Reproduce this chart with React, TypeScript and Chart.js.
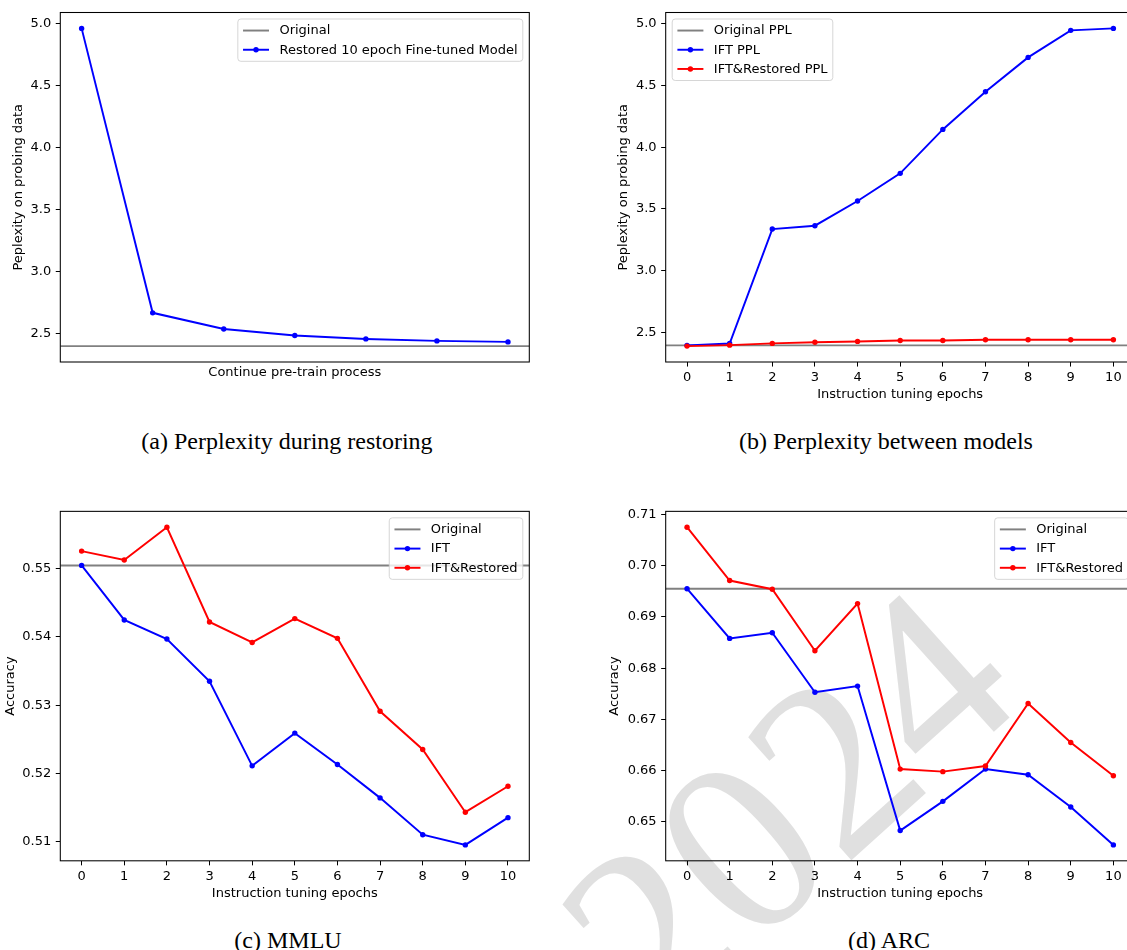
import React, { useEffect, useRef } from 'react';
import { Chart, registerables } from 'chart.js';

Chart.register(...registerables);

// ---------------- DATA ----------------
const restoreSteps = [0, 1, 2, 3, 4, 5, 6];
const restoredFinetunedPPL = [4.96, 2.67, 2.54, 2.487, 2.46, 2.444, 2.436];
const originalPPL_a = 2.402;

const epochs = [0, 1, 2, 3, 4, 5, 6, 7, 8, 9, 10];
const iftPPL = [2.395, 2.41, 3.337, 3.364, 3.564, 3.788, 4.144, 4.449, 4.727, 4.946, 4.962];
const iftRestoredPPL = [2.389, 2.397, 2.411, 2.42, 2.427, 2.435, 2.435, 2.44, 2.44, 2.44, 2.44];
const originalPPL_b = 2.395;

const mmluIFT = [0.5505, 0.5425, 0.5397, 0.5335, 0.5211, 0.5259, 0.5213, 0.5164, 0.511, 0.5095, 0.5135];
const mmluRestored = [0.5526, 0.5513, 0.5561, 0.5422, 0.5392, 0.5427, 0.5398, 0.5291, 0.5235, 0.5143, 0.5181];
const mmluOriginal = 0.5505;

const arcIFT = [0.6955, 0.6858, 0.6869, 0.6753, 0.6765, 0.6483, 0.654, 0.6603, 0.6592, 0.6529, 0.6455];
const arcRestored = [0.7075, 0.6971, 0.6954, 0.6834, 0.6926, 0.6603, 0.6598, 0.6609, 0.6731, 0.6655, 0.659];
const arcOriginal = 0.6955;

const pplTicks = [2.5, 3.0, 3.5, 4.0, 4.5, 5.0];
const mmluTicks = [0.51, 0.52, 0.53, 0.54, 0.55];
const arcTicks = [0.65, 0.66, 0.67, 0.68, 0.69, 0.7, 0.71];
const epochTicks = [0, 1, 2, 3, 4, 5, 6, 7, 8, 9, 10];

const captions = ['(a) Perplexity during restoring', '(b) Perplexity between models', '(c) MMLU', '(d) ARC'];

// ---------------- STYLE ----------------
const FONT = '"DejaVu Sans", Verdana, sans-serif';
const FS = 13;
const TICK = 4.55;
const LW = 1.95;
const PR = 2.7;
const Y_W = 60;

function padded(vals: number[]): [number, number] {
  const lo = Math.min(...vals);
  const hi = Math.max(...vals);
  const m = (hi - lo) * 0.05;
  return [lo - m, hi + m];
}
function series(xs: number[], ys: number[]) {
  return xs.map((x, i) => ({ x, y: ys[i] }));
}
function hline(xMin: number, xMax: number, y: number) {
  return [{ x: xMin, y }, { x: xMax, y }];
}
function lineDs(label: string, data: any[], color: string, order: number) {
  return {
    label, data, borderColor: color, backgroundColor: color, borderWidth: LW,
    pointRadius: PR, pointHoverRadius: PR, pointBorderWidth: 0, pointBackgroundColor: color,
    tension: 0, fill: false, order,
  };
}
function origDs(label: string, data: any[]) {
  return {
    label, data, borderColor: '#808080', backgroundColor: '#808080', borderWidth: LW,
    pointRadius: 0, pointHoverRadius: 0, tension: 0, fill: false, order: 10,
  };
}

const framePlugin = {
  id: 'mplFrame',
  afterDatasetsDraw(chart: any) {
    const { ctx, chartArea: ca } = chart;
    ctx.save();
    ctx.strokeStyle = '#000';
    ctx.lineWidth = 1.05;
    ctx.strokeRect(ca.left, ca.top, ca.right - ca.left, ca.bottom - ca.top);
    ctx.restore();
  },
};

const legendPlugin = {
  id: 'mplLegend',
  afterDraw(chart: any, _args: any, opts: any) {
    const { ctx, chartArea: ca } = chart;
    const items = chart.data.datasets;
    ctx.save();
    ctx.font = `${FS}px ${FONT}`;
    const maxW = Math.max(...items.map((d: any) => ctx.measureText(d.label).width));
    const pad = 0.4 * FS, hl = 2 * FS, htp = 0.8 * FS, axpad = 0.5 * FS, th = 12.7, ls = 0.5 * FS;
    const w = 2 * pad + hl + htp + maxW;
    const h = 2 * pad + items.length * th + (items.length - 1) * ls;
    const x0 = opts.loc === 'upper left' ? ca.left + axpad : ca.right - axpad - w;
    const y0 = ca.top + axpad;
    const r = 3;
    ctx.beginPath();
    ctx.moveTo(x0 + r, y0);
    ctx.lineTo(x0 + w - r, y0);
    ctx.arcTo(x0 + w, y0, x0 + w, y0 + r, r);
    ctx.lineTo(x0 + w, y0 + h - r);
    ctx.arcTo(x0 + w, y0 + h, x0 + w - r, y0 + h, r);
    ctx.lineTo(x0 + r, y0 + h);
    ctx.arcTo(x0, y0 + h, x0, y0 + h - r, r);
    ctx.lineTo(x0, y0 + r);
    ctx.arcTo(x0, y0, x0 + r, y0, r);
    ctx.closePath();
    ctx.fillStyle = 'rgba(255,255,255,0.8)';
    ctx.fill();
    ctx.strokeStyle = 'rgba(204,204,204,0.8)';
    ctx.lineWidth = 1;
    ctx.stroke();
    items.forEach((d: any, i: number) => {
      const cy = y0 + pad + th / 2 + i * (th + ls);
      const hx = x0 + pad;
      ctx.strokeStyle = d.borderColor;
      ctx.lineWidth = LW;
      ctx.beginPath();
      ctx.moveTo(hx, cy);
      ctx.lineTo(hx + hl, cy);
      ctx.stroke();
      if (d.pointRadius > 0) {
        ctx.fillStyle = d.borderColor;
        ctx.beginPath();
        ctx.arc(hx + hl / 2, cy, PR, 0, Math.PI * 2);
        ctx.fill();
      }
      ctx.fillStyle = '#000';
      ctx.textBaseline = 'middle';
      ctx.textAlign = 'left';
      ctx.fillText(d.label, hx + hl + htp, cy + 0.5);
    });
    ctx.restore();
  },
};

type Spec = {
  plot: { L: number; T: number; R: number; B: number };
  canvas: { cl: number; ct: number; cw: number; ch: number };
  yTitleX: number; xTitleY: number;
  xMin: number; xMax: number; xTicks: number[];
  yRange: [number, number]; yTicks: number[]; dec: number;
  xLabel: string; yLabel: string; loc: string;
  datasets: any[];
};

const specs: Spec[] = [
  {
    plot: { L: 60.3, T: 12.5, R: 529.3, B: 362 },
    canvas: { cl: 0, ct: 0, cw: 560, ch: 410 },
    yTitleX: 19, xTitleY: 372.3,
    xMin: -0.3, xMax: 6.3, xTicks: [],
    yRange: padded([...restoredFinetunedPPL, originalPPL_a]), yTicks: pplTicks, dec: 1,
    xLabel: 'Continue pre-train process', yLabel: 'Peplexity on probing data', loc: 'upper right',
    datasets: [
      origDs('Original', hline(-0.3, 6.3, originalPPL_a)),
      lineDs('Restored 10 epoch Fine-tuned Model', series(restoreSteps, restoredFinetunedPPL), '#0000ff', 2),
    ],
  },
  {
    plot: { L: 665.7, T: 12.5, R: 1134.7, B: 362 },
    canvas: { cl: 605, ct: 0, cw: 560, ch: 410 },
    yTitleX: 623.5, xTitleY: 395,
    xMin: -0.5, xMax: 10.5, xTicks: epochTicks,
    yRange: padded([...iftPPL, ...iftRestoredPPL, originalPPL_b]), yTicks: pplTicks, dec: 1,
    xLabel: 'Instruction tuning epochs', yLabel: 'Peplexity on probing data', loc: 'upper left',
    datasets: [
      origDs('Original PPL', hline(-0.5, 10.5, originalPPL_b)),
      lineDs('IFT PPL', series(epochs, iftPPL), '#0000ff', 2),
      lineDs('IFT&Restored PPL', series(epochs, iftRestoredPPL), '#ff0000', 1),
    ],
  },
  {
    plot: { L: 60.3, T: 511.3, R: 529.3, B: 860.8 },
    canvas: { cl: 0, ct: 499, cw: 560, ch: 410 },
    yTitleX: 10.3, xTitleY: 894,
    xMin: -0.5, xMax: 10.5, xTicks: epochTicks,
    yRange: padded([...mmluIFT, ...mmluRestored, mmluOriginal]), yTicks: mmluTicks, dec: 2,
    xLabel: 'Instruction tuning epochs', yLabel: 'Accuracy', loc: 'upper right',
    datasets: [
      origDs('Original', hline(-0.5, 10.5, mmluOriginal)),
      lineDs('IFT', series(epochs, mmluIFT), '#0000ff', 2),
      lineDs('IFT&Restored', series(epochs, mmluRestored), '#ff0000', 1),
    ],
  },
  {
    plot: { L: 665.7, T: 511.3, R: 1134.7, B: 860.8 },
    canvas: { cl: 605, ct: 499, cw: 560, ch: 410 },
    yTitleX: 615, xTitleY: 894,
    xMin: -0.5, xMax: 10.5, xTicks: epochTicks,
    yRange: padded([...arcIFT, ...arcRestored, arcOriginal]), yTicks: arcTicks, dec: 2,
    xLabel: 'Instruction tuning epochs', yLabel: 'Accuracy', loc: 'upper right',
    datasets: [
      origDs('Original', hline(-0.5, 10.5, arcOriginal)),
      lineDs('IFT', series(epochs, arcIFT), '#0000ff', 2),
      lineDs('IFT&Restored', series(epochs, arcRestored), '#ff0000', 1),
    ],
  },
];

function buildConfig(s: Spec): any {
  const { plot: p, canvas: c } = s;
  const lh = FS * 1.2;
  const padLeft = p.L - Y_W - c.cl;
  const padTop = p.T - c.ct;
  const padRight = c.cl + c.cw - p.R;
  const xH = c.ct + c.ch - p.B;
  const yTitlePad = s.yTitleX - (c.cl + padLeft) - lh / 2;
  const xTitlePad = c.ct + c.ch - lh / 2 - s.xTitleY;
  const font = { family: FONT, size: FS, lineHeight: 1.2 };
  const hasX = s.xTicks.length > 0;
  return {
    type: 'line',
    data: { datasets: s.datasets },
    plugins: [framePlugin, legendPlugin],
    options: {
      animation: false,
      responsive: false,
      devicePixelRatio: 1,
      events: [],
      layout: { padding: { left: padLeft, top: padTop, right: padRight, bottom: 0 } },
      plugins: {
        legend: { display: false },
        tooltip: { enabled: false },
        mplLegend: { loc: s.loc },
      },
      scales: {
        x: {
          type: 'linear', min: s.xMin, max: s.xMax,
          afterBuildTicks: (sc: any) => { sc.ticks = s.xTicks.map((v) => ({ value: v })); },
          afterFit: (sc: any) => { sc.height = xH; },
          grid: { display: hasX, drawOnChartArea: false, drawTicks: true, tickLength: TICK, tickWidth: 1.04, tickColor: '#000' },
          border: { display: false },
          ticks: { display: hasX, padding: 3, color: '#000', font, maxRotation: 0, autoSkip: false, callback: (v: any) => String(v) },
          title: { display: true, text: s.xLabel, color: '#000', font, padding: { top: 0, bottom: xTitlePad } },
        },
        y: {
          type: 'linear', min: s.yRange[0], max: s.yRange[1],
          afterBuildTicks: (sc: any) => { sc.ticks = s.yTicks.map((v) => ({ value: v })); },
          afterFit: (sc: any) => { sc.width = Y_W; },
          grid: { display: true, drawOnChartArea: false, drawTicks: true, tickLength: TICK, tickWidth: 1.04, tickColor: '#000' },
          border: { display: false },
          ticks: { padding: 4.55, color: '#000', font, callback: (v: any) => Number(v).toFixed(s.dec) },
          title: { display: true, text: s.yLabel, color: '#000', font, padding: { top: yTitlePad, bottom: 0 } },
        },
      },
    },
  };
}

function Panel({ spec }: { spec: Spec }) {
  const ref = useRef<HTMLCanvasElement>(null);
  useEffect(() => {
    const chart = new Chart(ref.current as HTMLCanvasElement, buildConfig(spec));
    return () => chart.destroy();
  }, [spec]);
  const c = spec.canvas;
  return (
    <canvas
      ref={ref}
      width={c.cw}
      height={c.ch}
      style={{ position: 'absolute', left: c.cl, top: c.ct, width: c.cw, height: c.ch }}
    />
  );
}

const captionPos = [
  { cx: 287, top: 429 },
  { cx: 886, top: 429 },
  { cx: 288, top: 928 },
  { cx: 889, top: 928 },
];

export default function App() {
  return (
    <div style={{ position: 'fixed', left: 0, top: 0, width: 1127, height: 950, overflow: 'hidden', background: '#fff' }}>
      <div
        style={{
          position: 'absolute', left: 787 - 500, top: 805 - 125, width: 1000, height: 250,
          textAlign: 'center', lineHeight: '250px', fontSize: 250,
          fontFamily: '"Liberation Serif", "Times New Roman", serif', color: '#e0e0e0',
          transform: 'rotate(-42deg)', whiteSpace: 'nowrap', userSelect: 'none',
        }}
      >
        2024
      </div>
      {specs.map((s, i) => <Panel key={i} spec={s} />)}
      {captions.map((t, i) => (
        <div
          key={t}
          style={{
            position: 'absolute', left: captionPos[i].cx - 250, top: captionPos[i].top, width: 500,
            textAlign: 'center', fontFamily: '"Liberation Serif", "Times New Roman", serif',
            fontSize: 24, lineHeight: '24px', color: '#000', whiteSpace: 'nowrap',
          }}
        >
          {t}
        </div>
      ))}
    </div>
  );
}
